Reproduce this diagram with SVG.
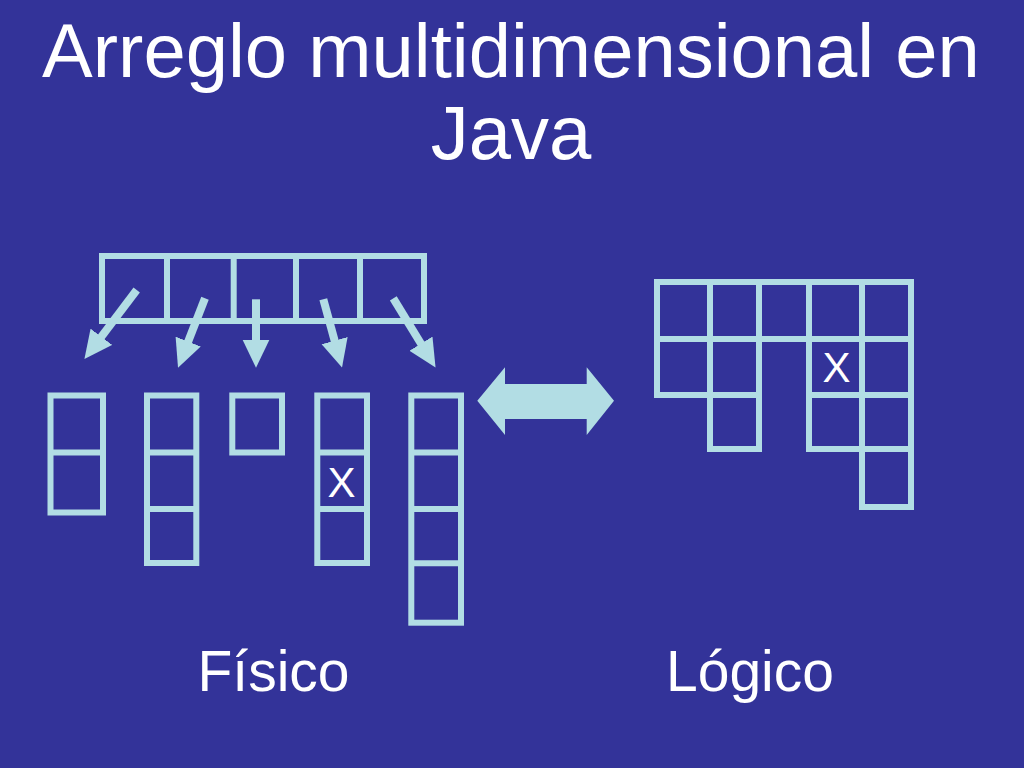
<svg xmlns="http://www.w3.org/2000/svg" width="1024" height="768" viewBox="0 0 1024 768">
  <style>
    .cell { fill: none; stroke: #b2dde4; stroke-width: 6; }
    .ln { stroke: #b2dde4; stroke-width: 6; }
    .arr { stroke: #b2dde4; stroke-width: 8; fill: none; marker-end: url(#head); }
    .title { font-family: "Liberation Sans", Arial, sans-serif; font-size: 76px; fill: #ffffff; text-anchor: middle; }
    .label { font-family: "Liberation Sans", Arial, sans-serif; font-size: 57px; fill: #ffffff; text-anchor: middle; }
    .x { font-family: "Liberation Sans", Arial, sans-serif; font-size: 42px; fill: #ffffff; text-anchor: middle; }
  </style>
  <defs>
    <marker id="head" markerUnits="userSpaceOnUse" markerWidth="28" markerHeight="28" viewBox="0 0 27 26" refX="1" refY="13" orient="auto">
      <path d="M0,0 L27,13 L0,26 Z" fill="#b2dde4"/>
    </marker>
  </defs>
  <rect x="0" y="0" width="1024" height="768" fill="#333399"/>

  <g id="title">
    <text class="title" x="511" y="77">Arreglo multidimensional en</text>
    <text class="title" x="511" y="159">Java</text>
  </g>

  <g id="top-array">
    <rect class="cell" x="102" y="256" width="322" height="65"/>
    <line class="ln" x1="167" y1="256" x2="167" y2="321"/>
    <line class="ln" x1="233.7" y1="256" x2="233.7" y2="321"/>
    <line class="ln" x1="296" y1="256" x2="296" y2="321"/>
    <line class="ln" x1="360" y1="256" x2="360" y2="321"/>
  </g>

  <g id="connectors">
    <line class="arr" x1="136.7" y1="290" x2="100.7" y2="337.6"/>
    <line class="arr" x1="205" y1="298.3" x2="187.8" y2="342.5"/>
    <line class="arr" x1="256" y1="299.3" x2="256" y2="340.7"/>
    <line class="arr" x1="323.3" y1="299.3" x2="334.9" y2="341.6"/>
    <line class="arr" x1="393.3" y1="298.3" x2="421.5" y2="344.5"/>
    <polygon id="double-arrow" points="477.3,400.7 505,367.3 505,384 586.7,384 586.7,367.3 614,400.7 586.7,435 586.7,419 505,419 505,435" fill="#b2dde4"/>
  </g>

  <g id="col1">
    <rect class="cell" x="50.5" y="395.5" width="52.5" height="117"/>
    <line class="ln" x1="50.5" y1="452.5" x2="103" y2="452.5"/>
  </g>
  <g id="col2">
    <rect class="cell" x="147" y="395.5" width="49.3" height="167.5"/>
    <line class="ln" x1="147" y1="452.5" x2="196.3" y2="452.5"/>
    <line class="ln" x1="147" y1="509" x2="196.3" y2="509"/>
  </g>
  <g id="col3">
    <rect class="cell" x="232.3" y="395.5" width="49.7" height="57"/>
  </g>
  <g id="col4">
    <rect class="cell" x="317.3" y="395.5" width="49.7" height="167.5"/>
    <line class="ln" x1="317.3" y1="452.5" x2="367" y2="452.5"/>
    <line class="ln" x1="317.3" y1="509" x2="367" y2="509"/>
    <text class="x" x="341.5" y="497">X</text>
  </g>
  <g id="col5">
    <rect class="cell" x="411.3" y="395.5" width="49.7" height="227.2"/>
    <line class="ln" x1="411.3" y1="452.5" x2="461" y2="452.5"/>
    <line class="ln" x1="411.3" y1="509" x2="461" y2="509"/>
    <line class="ln" x1="411.3" y1="563.3" x2="461" y2="563.3"/>
  </g>

  <g id="logical-grid">
    <rect class="cell" x="657" y="282" width="53" height="57"/>
    <rect class="cell" x="657" y="339" width="53" height="56"/>
    <rect class="cell" x="710" y="282" width="49" height="57"/>
    <rect class="cell" x="710" y="339" width="49" height="56"/>
    <rect class="cell" x="710" y="395" width="49" height="54"/>
    <rect class="cell" x="759" y="282" width="50" height="57"/>
    <rect class="cell" x="809" y="282" width="53" height="57"/>
    <rect class="cell" x="809" y="339" width="53" height="56"/>
    <rect class="cell" x="809" y="395" width="53" height="54"/>
    <rect class="cell" x="862" y="282" width="49" height="57"/>
    <rect class="cell" x="862" y="339" width="49" height="56"/>
    <rect class="cell" x="862" y="395" width="49" height="54"/>
    <rect class="cell" x="862" y="449" width="49" height="58"/>
    <text class="x" x="836.5" y="382">X</text>
  </g>

  <g id="labels">
    <text class="label" x="273.5" y="691">Físico</text>
    <text class="label" x="750" y="691">Lógico</text>
  </g>
</svg>
